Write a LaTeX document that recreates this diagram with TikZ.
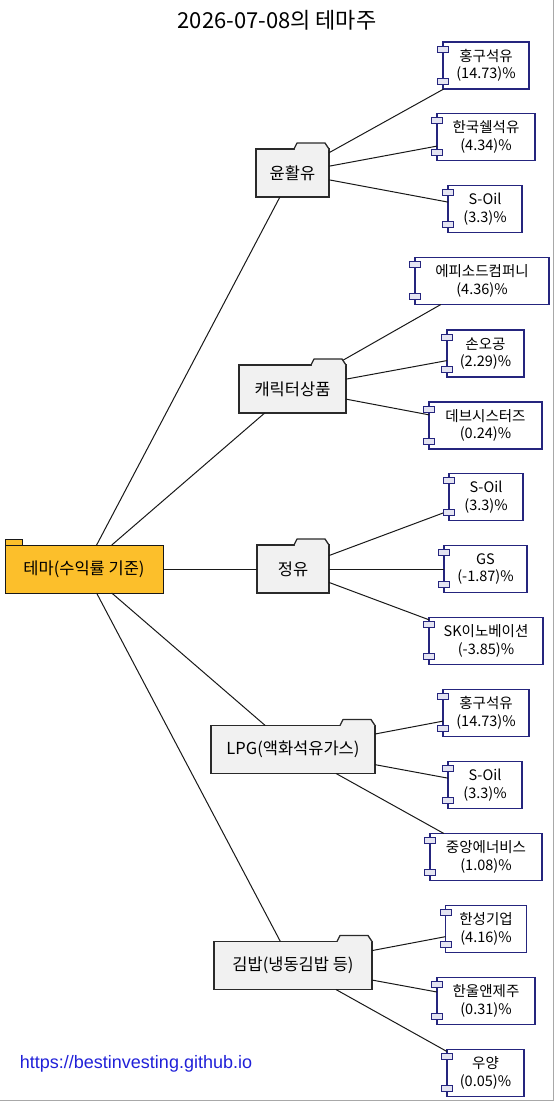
\documentclass[tikz,border=0pt]{standalone}
\usepackage{fontspec}
\setmainfont{Noto Sans CJK KR}
\newfontfamily\urlfont{Liberation Sans}
\usepackage{tikz}
\usepackage{xcolor}
\usetikzlibrary{calc}
\pgfdeclarelayer{front}
\pgfsetlayers{main,front}
\definecolor{ink}{HTML}{181818}
\definecolor{themeorange}{HTML}{FCBF2B}
\definecolor{foldgray}{HTML}{F1F1F1}
\definecolor{foldline}{HTML}{2A2A2A}
\definecolor{stocknavy}{HTML}{25257E}
\definecolor{portfill}{HTML}{E4E4F2}
\definecolor{urlblue}{HTML}{2020D8}
\definecolor{framegray}{HTML}{A8A8A8}
\tikzset{
  themebox/.style={draw=ink,fill=themeorange,line width=1pt,outer sep=0pt,
                   minimum height=48pt,inner sep=0pt,
                   font=\fontsize{16.5}{20}\selectfont,
                   append after command={\pgfextra{\let\mainnode=\tikzlastnode
                     \begin{pgfinterruptpath}\begin{pgfonlayer}{front}
                     \filldraw[draw=ink,fill=themeorange,line width=1pt]
                       (\mainnode.north west) rectangle ($(\mainnode.north west)+(17,-6)$);
                     \end{pgfonlayer}\end{pgfinterruptpath}}}},
  folderbox/.style={draw=foldline,fill=foldgray,line width=1.3pt,outer sep=0pt,
                    minimum height=48pt,inner sep=0pt,
                    font=\fontsize{16.5}{20}\selectfont,
                    append after command={\pgfextra{\let\mainnode=\tikzlastnode
                      \begin{pgfinterruptpath}\begin{pgfonlayer}{front}
                      \fill[foldgray] ($(\mainnode.north east)+(-34.3,0.7)$)
                        rectangle ($(\mainnode.north east)+(-0.7,-0.7)$);
                      \filldraw[draw=foldline,fill=foldgray,line width=1.3pt,line join=round]
                        ($(\mainnode.north east)+(-35,0)$) -- ($(\mainnode.north east)+(-32,-6)$)
                        -- ($(\mainnode.north east)+(-4,-6)$) -- (\mainnode.north east);
                      \end{pgfonlayer}\end{pgfinterruptpath}}}},
  stockbox/.style={draw=stocknavy,fill=white,line width=1.1pt,outer sep=0pt,
                   minimum height=47pt,inner sep=0pt,align=center,
                   font=\fontsize{14.5}{17.5}\selectfont,
                   append after command={\pgfextra{\let\mainnode=\tikzlastnode
                     \begin{pgfinterruptpath}\begin{pgfonlayer}{front}
                     \filldraw[draw=stocknavy,fill=portfill,line width=1pt]
                       ($(\mainnode.north west)+(-5.5,4)$) rectangle ($(\mainnode.north west)+(5.5,10)$);
                     \filldraw[draw=stocknavy,fill=portfill,line width=1pt]
                       ($(\mainnode.south west)+(-5.5,-11)$) rectangle ($(\mainnode.south west)+(5.5,-5)$);
                     \end{pgfonlayer}\end{pgfinterruptpath}}}},
  link/.style={draw=ink,line width=1pt}
}

\begin{document}
\begin{tikzpicture}[x=1pt,y=-1pt]
  \useasboundingbox (0,0) rectangle (555,1103);
  \draw[framegray,line width=1pt] (553.5,0) -- (553.5,1100.5) -- (0,1100.5);

  \node[font=\fontsize{22}{26}\selectfont] (title) at (277,20) {2026-07-08의 테마주};

  \node[themebox,minimum width=158pt] (theme) at (84,569) {테마(수익률 기준)};

  \node[folderbox,minimum width=73pt] (lube) at (292.5,173) {윤활유};
  \node[folderbox,minimum width=107pt] (chara) at (292.5,389) {캐릭터상품};
  \node[folderbox,minimum width=72pt] (refin) at (293,569) {정유};
  \node[folderbox,minimum width=164pt] (lpg) at (293,749.5) {LPG(액화석유가스)};
  \node[folderbox,minimum width=158pt] (gimbap) at (293,965.5) {김밥(냉동김밥 등)};

  \node[stockbox,minimum width=86pt] (heungkuk) at (486,65.5) {홍구석유\\(14.73)\%};
  \node[stockbox,minimum width=98pt] (shell) at (486,137) {한국쉘석유\\(4.34)\%};
  \node[stockbox,minimum width=74pt] (soilA) at (485,209) {S-Oil\\(3.3)\%};
  \node[stockbox,minimum width=134pt] (episode) at (482,281) {에피소드컴퍼니\\(4.36)\%};
  \node[stockbox,minimum width=77pt] (sonokong) at (485.5,353.5) {손오공\\(2.29)\%};
  \node[stockbox,minimum width=113pt] (devsis) at (485.5,425.5) {데브시스터즈\\(0.24)\%};
  \node[stockbox,minimum width=74pt] (soilB) at (486,497) {S-Oil\\(3.3)\%};
  \node[stockbox,minimum width=83pt] (gs) at (485.5,569) {GS\\(-1.87)\%};
  \node[stockbox,minimum width=114pt] (skinno) at (486,641) {SK이노베이션\\(-3.85)\%};
  \node[stockbox,minimum width=86pt] (heungkukB) at (486,713) {홍구석유\\(14.73)\%};
  \node[stockbox,minimum width=74pt] (soilC) at (485,785) {S-Oil\\(3.3)\%};
  \node[stockbox,minimum width=112pt] (jungang) at (486,857) {중앙에너비스\\(1.08)\%};
  \node[stockbox,minimum width=81pt] (hansung) at (486,929) {한성기업\\(4.16)\%};
  \node[stockbox,minimum width=98pt] (hanul) at (486,1001) {한울앤제주\\(0.31)\%};
  \node[stockbox,minimum width=77pt] (wooyang) at (485.5,1073) {우양\\(0.05)\%};

  \node[font={\urlfont\fontsize{18}{22}\selectfont},text=urlblue] (site) at (136,1064) {https://bestinvesting.github.io};

  \draw[link] (theme) -- (lube);
  \draw[link] (theme) -- (chara);
  \draw[link] (theme) -- (refin);
  \draw[link] (theme) -- (lpg);
  \draw[link] (theme) -- (gimbap);

  \draw[link] (lube) -- (heungkuk);
  \draw[link] (lube) -- (shell);
  \draw[link] (lube) -- (soilA);
  \draw[link] (chara) -- (episode);
  \draw[link] (chara) -- (sonokong);
  \draw[link] (chara) -- (devsis);
  \draw[link] (refin) -- (soilB);
  \draw[link] (refin) -- (gs);
  \draw[link] (refin) -- (skinno);
  \draw[link] (lpg) -- (heungkukB);
  \draw[link] (lpg) -- (soilC);
  \draw[link] (lpg) -- (jungang);
  \draw[link] (gimbap) -- (hansung);
  \draw[link] (gimbap) -- (hanul);
  \draw[link] (gimbap) -- (wooyang);
\end{tikzpicture}
\end{document}
